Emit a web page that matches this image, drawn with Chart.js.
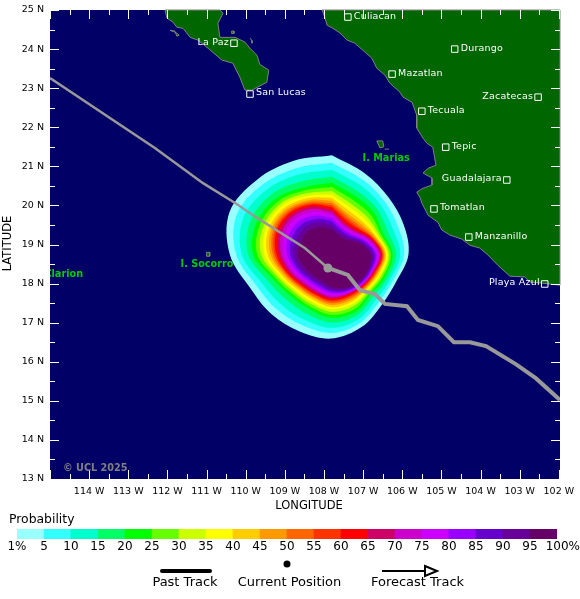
<!DOCTYPE html>
<html>
<head>
<meta charset="utf-8">
<style>
  html, body { margin: 0; padding: 0; background: #fff; overflow: hidden; }
  canvas { position: absolute; left: 0; }
  #mapChart { top: 0; }
  #scaleChart { top: 512px; }
</style>
<script src="https://cdn.jsdelivr.net/npm/chart.js@4/dist/chart.umd.min.js"></script>
</head>
<body>
<canvas id="mapChart" width="580" height="512"></canvas>
<canvas id="scaleChart" width="580" height="87"></canvas>
<script>
// Storm tracks, [lon, lat]
const pastTrack = [[-115, 23.26], [-112.32, 21.47], [-111.09, 20.57], [-110.22, 20.03], [-109.71, 19.68], [-108.49, 18.91], [-107.90, 18.40]];
const forecastTrack = [[-107.90, 18.40], [-107.39, 18.22], [-107.08, 17.83], [-106.70, 17.73], [-106.44, 17.48], [-105.88, 17.42], [-105.60, 17.07], [-105.09, 16.91], [-104.68, 16.50], [-104.27, 16.50], [-103.86, 16.40], [-103.10, 15.94], [-102.59, 15.58], [-101.97, 15.02]];
const currentPosition = [[-107.90, 18.40]];

// Coastlines, [lon, lat]
const mainland = [[-108.05, 25], [-107.98, 24.82], [-107.92, 24.61], [-107.77, 24.53], [-107.59, 24.41], [-107.41, 24.23], [-107.21, 24.15], [-106.95, 23.92], [-106.78, 23.77], [-106.65, 23.51], [-106.44, 23.33], [-106.32, 23.13], [-106.06, 22.90], [-105.98, 22.77], [-105.75, 22.64], [-105.63, 22.31], [-105.63, 21.98], [-105.47, 21.72], [-105.37, 21.59], [-105.22, 21.49], [-105.14, 21.03], [-105.34, 20.95], [-105.47, 20.83], [-105.24, 20.70], [-105.24, 20.52], [-105.47, 20.44], [-105.63, 20.34], [-105.55, 20.21], [-105.50, 20.06], [-105.34, 19.75], [-105.09, 19.57], [-104.99, 19.37], [-104.78, 19.24], [-104.48, 19.14], [-104.27, 18.98], [-104.02, 18.91], [-103.81, 18.73], [-103.56, 18.47], [-103.25, 18.19], [-102.87, 18.17], [-102.74, 18.04], [-102.41, 18.01], [-101.97, 17.96], [-101.97, 25], [-108.05, 25]];
const baja = [[-112.06, 25], [-112.01, 24.79], [-111.86, 24.69], [-111.76, 24.56], [-111.60, 24.53], [-111.42, 24.30], [-111.22, 24.23], [-110.96, 24.02], [-110.61, 23.72], [-110.33, 23.64], [-110.15, 23.28], [-110.02, 22.95], [-109.84, 22.95], [-109.46, 23.15], [-109.41, 23.46], [-109.64, 23.61], [-109.71, 23.84], [-109.89, 24.02], [-110.02, 24.18], [-110.27, 24.30], [-110.66, 24.30], [-110.71, 24.66], [-110.58, 24.92], [-110.66, 25], [-112.06, 25]];
const margarita = [[-111.93, 24.48], [-111.81, 24.46], [-111.76, 24.33], [-111.70, 24.36], [-111.78, 24.42], [-111.93, 24.48]];
const cerralvo = [[-109.89, 24.28], [-109.84, 24.22], [-109.84, 24.15]];
const espiritu = [[-110.36, 24.46], [-110.30, 24.46], [-110.30, 24.40], [-110.36, 24.40], [-110.36, 24.46]];
const marias = [[-106.65, 21.65], [-106.50, 21.65], [-106.47, 21.50], [-106.57, 21.47], [-106.65, 21.65]];
const isabel = [[-106.45, 21.44], [-106.34, 21.44]];
const socorro = [[-111.00, 18.80], [-110.92, 18.80], [-110.92, 18.70], [-111.00, 18.70], [-111.00, 18.80]];
const clarion = [[-114.75, 18.30], [-114.72, 18.28]];

// Cities
const cityNames = ['Culiacan', 'Durango', 'Mazatlan', 'Zacatecas', 'Tecuala', 'Tepic', 'Guadalajara', 'Tomatlan', 'Manzanillo', 'Playa Azul', 'La Paz', 'San Lucas'];
const cityLon = [-107.39, -104.66, -106.26, -102.53, -105.50, -104.89, -103.33, -105.19, -104.30, -102.36, -110.30, -109.89];
const cityLat = [24.82, 24.00, 23.36, 22.77, 22.41, 21.49, 20.65, 19.91, 19.19, 17.99, 24.15, 22.85];
const cityLabelLeft = ['Zacatecas', 'Guadalajara', 'Playa Azul', 'La Paz'];

// Island names
const islandNames = ['I. Marias', 'I. Socorro', 'I. Clarion'];
const islandLon = [-106.35, -111.00, -114.75];
const islandLat = [21.20, 18.50, 18.23];

// Probability contours: radius at each bearing from the contour centre
const contourCentre = [-107.80, 18.75];
const bearings = [0, 22.5, 45, 67.5, 90, 112.5, 135, 157.5, 180, 202.5, 225, 247.5, 270, 292.5, 315, 337.5];
const radius01 = [297, 262, 241, 233, 230, 210, 213, 236, 253, 251, 255, 265, 306, 332, 317, 303];
const radius05 = [275, 242, 224, 215, 217, 200, 201, 223, 236, 231, 234, 245, 287, 309, 295, 280];
const radius10 = [254, 224, 208, 198, 205, 191, 190, 211, 221, 213, 214, 227, 270, 287, 275, 259];
const radius15 = [233, 204, 192, 181, 193, 182, 178, 198, 205, 194, 193, 208, 251, 264, 255, 237];
const radius20 = [215, 188, 178, 166, 182, 174, 168, 187, 191, 178, 176, 192, 236, 245, 237, 218];
const radius25 = [202, 174, 166, 159, 177, 168, 162, 178, 182, 170, 168, 184, 224, 233, 226, 208];
const radius30 = [190, 161, 154, 153, 171, 163, 157, 169, 173, 162, 160, 176, 212, 222, 216, 198];
const radius35 = [179, 150, 145, 148, 167, 158, 152, 162, 165, 155, 154, 169, 202, 213, 208, 190];
const radius40 = [170, 140, 135, 143, 163, 153, 148, 155, 159, 148, 148, 163, 193, 204, 199, 183];
const radius45 = [161, 130, 127, 139, 159, 149, 144, 149, 152, 142, 142, 157, 184, 196, 192, 176];
const radius50 = [153, 123, 120, 135, 156, 146, 141, 144, 147, 138, 138, 152, 177, 190, 186, 170];
const radius55 = [147, 116, 114, 132, 153, 143, 138, 139, 142, 133, 134, 148, 171, 184, 181, 165];
const radius60 = [141, 110, 109, 129, 151, 140, 135, 135, 138, 130, 130, 145, 166, 179, 176, 161];
const radius65 = [134, 102, 102, 125, 148, 137, 132, 130, 133, 125, 126, 140, 159, 172, 170, 155];
const radius70 = [127, 97, 97, 121, 144, 135, 130, 128, 129, 120, 121, 134, 152, 163, 162, 147];
const radius75 = [119, 91, 92, 115, 140, 132, 128, 125, 124, 115, 115, 128, 144, 153, 152, 138];
const radius80 = [109, 84, 85, 109, 134, 129, 125, 121, 118, 108, 108, 119, 134, 141, 140, 126];
const radius85 = [99, 77, 78, 103, 129, 126, 122, 118, 112, 101, 101, 111, 125, 129, 128, 115];
const radius90 = [88, 69, 71, 96, 123, 122, 119, 114, 106, 94, 94, 103, 115, 116, 115, 103];
const radius95 = [75, 60, 62, 88, 116, 118, 115, 110, 98, 85, 85, 92, 102, 100, 100, 88];
const contourRadii = [radius01, radius05, radius10, radius15, radius20, radius25, radius30, radius35, radius40, radius45, radius50, radius55, radius60, radius65, radius70, radius75, radius80, radius85, radius90, radius95];
const radiusToDegrees = 0.00852;

// Probability scale
const probabilityBins = ['1-5', '5-10', '10-15', '15-20', '20-25', '25-30', '30-35', '35-40', '40-45', '45-50', '50-55', '55-60', '60-65', '65-70', '70-75', '75-80', '80-85', '85-90', '90-95', '95-100'];
const binWeights = [1, 1, 1, 1, 1, 1, 1, 1, 1, 1, 1, 1, 1, 1, 1, 1, 1, 1, 1, 1];
const binColors = ['#99ffff', '#33ffff', '#00ffcc', '#00ff66', '#00ff00', '#66ff00', '#ccff00', '#ffff00', '#ffcc00', '#ff9900', '#ff6600', '#ff3300', '#ff0000', '#cc0066', '#cc00cc', '#cc00ff', '#9900ff', '#6600cc', '#660099', '#660066'];
const scaleTicks = [0, 10, 20, 30, 40, 50, 60, 70, 80, 90, 100, 110, 120, 130, 140, 150, 160, 170, 180, 190, 200];
const scaleTickLabels = ['1%', '5', '10', '15', '20', '25', '30', '35', '40', '45', '50', '55', '60', '65', '70', '75', '80', '85', '90', '95', '100%'];

const FONT = '"DejaVu Sans"';

function toPoints(list) {
  return list.map(p => ({ x: p[0], y: p[1] }));
}

function contourPoints(radii) {
  const pts = radii.map((r, i) => {
    const a = bearings[i] * Math.PI / 180;
    return {
      x: contourCentre[0] + r * radiusToDegrees * Math.sin(a),
      y: contourCentre[1] + r * radiusToDegrees * Math.cos(a)
    };
  });
  pts.push(pts[0]);
  return pts;
}

function landSet(list) {
  return {
    data: toPoints(list), showLine: true, fill: 'shape', backgroundColor: '#006600',
    borderColor: '#808080', borderWidth: 1, pointRadius: 0, tension: 0, order: 100, clip: 2
  };
}

const datasets = [];
[mainland, baja, margarita, cerralvo, espiritu, marias, isabel, socorro, clarion].forEach(l => datasets.push(landSet(l)));
contourRadii.forEach((radii, i) => {
  datasets.push({
    data: contourPoints(radii), showLine: true, fill: 'shape', backgroundColor: binColors[i],
    borderWidth: 0, pointRadius: 0, tension: 0.35, order: 60 - i
  });
});
datasets.push({ data: toPoints(pastTrack), showLine: true, fill: false, borderColor: '#999999', borderWidth: 2.5, pointRadius: 0, tension: 0, order: 4 });
datasets.push({ data: toPoints(forecastTrack), showLine: true, fill: false, borderColor: '#999999', borderWidth: 4, pointRadius: 0, tension: 0, order: 3 });
datasets.push({ data: toPoints(currentPosition), backgroundColor: '#999999', borderWidth: 0, pointRadius: 4.5, order: 2 });
datasets.push({
  data: cityLon.map((lon, i) => ({ x: lon, y: cityLat[i] })), pointStyle: 'rect', pointRadius: 4.6,
  backgroundColor: 'rgba(0,0,0,0)', borderColor: '#ffffff', borderWidth: 1, order: 1
});

// Ocean fill behind everything, tick marks and place names on top
const mapDecor = {
  id: 'mapDecor',
  beforeDatasetsDraw(chart) {
    const { ctx, chartArea: a } = chart;
    ctx.save();
    ctx.fillStyle = '#000066';
    ctx.fillRect(a.left, a.top, a.right - a.left, a.bottom - a.top);
    ctx.restore();
  },
  afterDatasetsDraw(chart) {
    const { ctx, chartArea: a, scales } = chart;
    ctx.save();
    ctx.beginPath();
    ctx.rect(a.left, a.top, a.right - a.left, a.bottom - a.top);
    ctx.clip();

    ctx.strokeStyle = '#ffffff';
    ctx.lineWidth = 1;
    ctx.beginPath();
    scales.x.ticks.forEach(t => {
      const px = Math.round(scales.x.getPixelForValue(t.value)) + 0.5;
      const len = Number.isInteger(t.value) ? 9 : 5;
      ctx.moveTo(px, a.top); ctx.lineTo(px, a.top + len);
      ctx.moveTo(px, a.bottom); ctx.lineTo(px, a.bottom - len);
    });
    scales.y.ticks.forEach(t => {
      const py = Math.round(scales.y.getPixelForValue(t.value)) + 0.5;
      const len = Number.isInteger(t.value) ? 9 : 5;
      ctx.moveTo(a.left, py); ctx.lineTo(a.left + len, py);
      ctx.moveTo(a.right, py); ctx.lineTo(a.right - len, py);
    });
    ctx.stroke();

    ctx.textBaseline = 'middle';
    ctx.fillStyle = '#ffffff';
    ctx.font = '9.5px ' + FONT;
    ctx.letterSpacing = '0.2px';
    cityNames.forEach((name, i) => {
      const px = scales.x.getPixelForValue(cityLon[i]);
      const py = scales.y.getPixelForValue(cityLat[i]);
      const left = cityLabelLeft.includes(name);
      ctx.textAlign = left ? 'right' : 'left';
      ctx.fillText(name, px + (left ? -5 : 6), py - 1);
    });

    ctx.letterSpacing = '0px';
    ctx.textAlign = 'left';
    ctx.fillStyle = '#00cc00';
    ctx.font = 'bold 9.7px ' + FONT;
    islandNames.forEach((name, i) => {
      ctx.fillText(name, scales.x.getPixelForValue(islandLon[i]) - 26, scales.y.getPixelForValue(islandLat[i]));
    });

    ctx.fillStyle = '#808080';
    ctx.fillText('© UCL 2025', a.left + 13, 468);
    ctx.restore();
  },
  afterDraw(chart) {
    const { ctx } = chart;
    ctx.save();
    ctx.fillStyle = '#000';
    ctx.font = '11.5px ' + FONT;
    ctx.textAlign = 'center';
    ctx.textBaseline = 'middle';
    ctx.fillText('LONGITUDE', 309, 506);
    ctx.translate(8, 243.5);
    ctx.rotate(-Math.PI / 2);
    ctx.fillText('LATITUDE', 0, 0);
    ctx.restore();
  }
};

new Chart(document.getElementById('mapChart'), {
  type: 'scatter',
  data: { datasets },
  plugins: [mapDecor],
  options: {
    responsive: false,
    animation: false,
    devicePixelRatio: 1,
    layout: { padding: { top: 10, right: 20, left: 0, bottom: 0 } },
    plugins: { legend: { display: false }, tooltip: { enabled: false } },
    scales: {
      x: {
        min: -115, max: -101.97,
        afterFit(s) { s.height = 33; s.paddingLeft = 0; s.paddingRight = 0; },
        grid: { display: false, drawTicks: false },
        border: { display: false },
        ticks: {
          stepSize: 0.5, autoSkip: false, includeBounds: false, maxRotation: 0, padding: 7,
          color: '#000', font: { family: FONT, size: 9.5 },
          callback: v => (Number.isInteger(v) && v > -115 ? `${-v} W` : '')
        }
      },
      y: {
        min: 13, max: 25,
        afterFit(s) { s.width = 50; s.paddingTop = 0; s.paddingBottom = 0; },
        grid: { display: false, drawTicks: false },
        border: { display: false },
        ticks: {
          stepSize: 0.5, autoSkip: false, padding: 6,
          color: '#000', font: { family: FONT, size: 9.5 },
          callback: v => (Number.isInteger(v) ? `${v} N` : '')
        }
      }
    }
  }
});

// Colour bar labels and track key
const scaleDecor = {
  id: 'scaleDecor',
  afterDraw(chart) {
    const { ctx, scales } = chart;
    ctx.save();
    ctx.fillStyle = '#000';
    ctx.font = '12.4px ' + FONT;
    ctx.textBaseline = 'middle';
    ctx.textAlign = 'left';
    ctx.fillText('Probability', 9, 8);

    ctx.font = '12px ' + FONT;
    scaleTickLabels.forEach((label, i) => {
      const last = i === scaleTickLabels.length - 1;
      ctx.textAlign = last ? 'right' : 'center';
      const px = last ? 580 : scales.prob.getPixelForValue(scaleTicks[i]);
      ctx.fillText(label, px, 35);
    });

    ctx.font = '13px ' + FONT;
    ctx.textAlign = 'center';
    ctx.fillText('Past Track', 185, 71);
    ctx.fillText('Current Position', 289.5, 71);
    ctx.fillText('Forecast Track', 417.5, 71);

    ctx.strokeStyle = '#000';
    ctx.lineCap = 'round';
    ctx.lineWidth = 4;
    ctx.beginPath(); ctx.moveTo(162, 59); ctx.lineTo(210, 59); ctx.stroke();

    ctx.beginPath(); ctx.arc(287, 52, 3.5, 0, Math.PI * 2); ctx.fill();

    ctx.lineCap = 'butt';
    ctx.lineWidth = 2;
    ctx.beginPath(); ctx.moveTo(382, 59); ctx.lineTo(425, 59); ctx.stroke();
    ctx.beginPath(); ctx.moveTo(425, 54); ctx.lineTo(437, 59); ctx.lineTo(425, 64); ctx.closePath(); ctx.stroke();
    ctx.restore();
  }
};

new Chart(document.getElementById('scaleChart'), {
  type: 'bar',
  data: {
    labels: probabilityBins,
    datasets: [{ data: binWeights, backgroundColor: binColors, borderWidth: 0, barPercentage: 1, categoryPercentage: 1 }]
  },
  plugins: [scaleDecor],
  options: {
    responsive: false,
    animation: false,
    devicePixelRatio: 1,
    layout: { padding: { top: 17, left: 17, right: 23, bottom: 60 } },
    plugins: { legend: { display: false }, tooltip: { enabled: false } },
    scales: {
      x: { display: false },
      y: { display: false, min: 0, max: 1 },
      prob: { axis: 'x', type: 'linear', display: false, offset: false, min: 0, max: 200 }
    }
  }
});
</script>
</body>
</html>
